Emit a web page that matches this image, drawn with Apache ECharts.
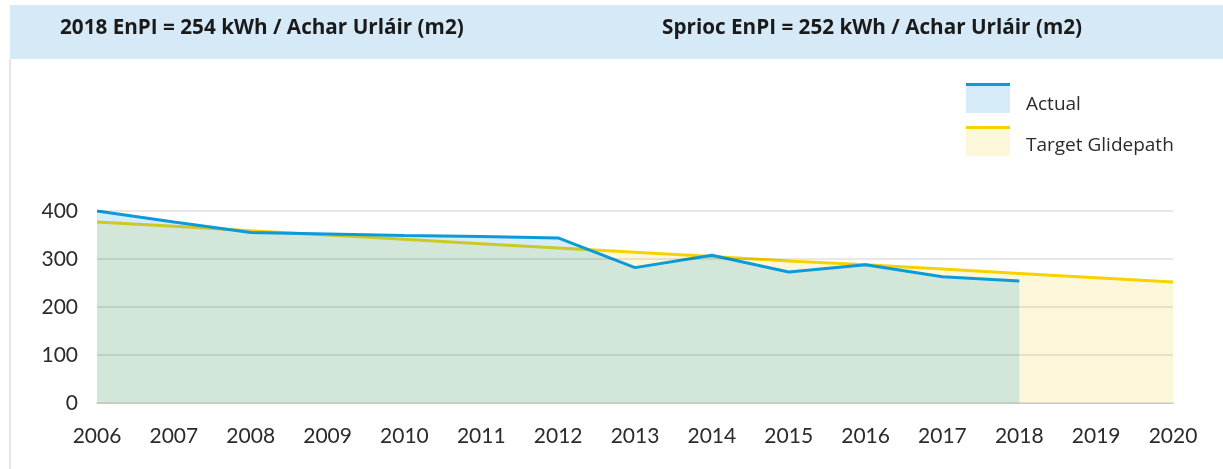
<!DOCTYPE html>
<html>
<head>
<meta charset="utf-8">
<title>EnPI</title>
<script src="https://cdn.jsdelivr.net/npm/echarts@6/dist/echarts.min.js"></script>
<style>
  html, body { margin: 0; padding: 0; background: #ffffff; }
  #chart { width: 1223px; height: 469px; }
</style>
</head>
<body>
<div id="chart"></div>
<script>
// Years on the x axis
const years = ['2006', '2007', '2008', '2009', '2010', '2011', '2012', '2013',
               '2014', '2015', '2016', '2017', '2018', '2019', '2020'];

// Measured energy performance indicator (kWh per m2 of floor area)
const actual = [400, 377, 355, 352, 349, 347, 344, 282, 308, 273, 288, 263, 254];

// Target glidepath down to the 2020 target
const target = [377, 368, 359, 350, 341, 332, 323, 314, 305, 296, 288, 279, 270, 261, 252];

// Header texts and legend names
const headerLeft = '2018 EnPI = 254 kWh / Achar Urláir (m2)';
const headerRight = 'Sprioc EnPI = 252 kWh / Achar Urláir (m2)';
const nameActual = 'Actual';
const nameTarget = 'Target Glidepath';

const FONT = 'Lato, "Open Sans", sans-serif';
const FONT_WIDE = '"Open Sans", Lato, sans-serif';
const BLUE = '#0c9ad9';
const YELLOW = '#f6d300';

const chart = echarts.init(document.getElementById('chart'), null, { renderer: 'canvas' });

chart.setOption({
  animation: false,
  backgroundColor: '#ffffff',
  grid: { left: 97, right: 50, top: 211, bottom: 66 },
  xAxis: {
    type: 'category',
    data: years,
    boundaryGap: false,
    axisLine: { show: true, lineStyle: { color: '#dcdcdc', width: 2 } },
    axisTick: { show: false },
    axisLabel: { color: '#2b2b2b', fontFamily: FONT, fontSize: 21, margin: 23 },
    splitLine: { show: false }
  },
  yAxis: {
    type: 'value',
    min: 0,
    max: 400,
    interval: 100,
    z: 5,
    axisLine: { show: false },
    axisTick: { show: false },
    axisLabel: { color: '#2b2b2b', fontFamily: FONT, fontSize: 21, margin: 19 },
    splitLine: { show: true, lineStyle: { color: 'rgba(0,0,0,0.12)', width: 1.5 } }
  },
  series: [
    {
      name: nameTarget,
      type: 'line',
      data: target,
      symbol: 'none',
      lineStyle: { color: YELLOW, width: 3 },
      areaStyle: { color: '#fdf7da', opacity: 1 },
      z: 2
    },
    {
      name: nameActual,
      type: 'line',
      data: actual,
      symbol: 'none',
      lineStyle: { color: BLUE, width: 3 },
      areaStyle: { color: 'rgb(0,150,215)', opacity: 0.17 },
      z: 3
    }
  ],
  graphic: [
    // header band
    { type: 'rect', left: 10, top: 5, shape: { width: 1213, height: 54 },
      style: { fill: '#d5e9f7' }, z: 0 },
    // left frame line
    { type: 'rect', left: 9, top: 59, shape: { width: 2, height: 410 },
      style: { fill: '#e6e6e6' }, z: 0 },
    { type: 'text', left: 60, top: 18,
      style: { text: headerLeft, fill: '#1a1a1a', font: 'bold 20.7px ' + FONT_WIDE } },
    { type: 'text', left: 662, top: 18,
      style: { text: headerRight, fill: '#1a1a1a', font: 'bold 20.7px ' + FONT_WIDE } },
    // legend: Actual
    { type: 'rect', left: 966, top: 85, shape: { width: 44, height: 28 },
      style: { fill: '#d5ecf8' } },
    { type: 'rect', left: 966, top: 83, shape: { width: 44, height: 3 },
      style: { fill: BLUE } },
    { type: 'text', left: 1026, top: 95,
      style: { text: nameActual, fill: '#2b2b2b', font: '19px ' + FONT_WIDE } },
    // legend: Target Glidepath
    { type: 'rect', left: 966, top: 128, shape: { width: 44, height: 28 },
      style: { fill: '#fdf7da' } },
    { type: 'rect', left: 966, top: 126, shape: { width: 44, height: 3 },
      style: { fill: YELLOW } },
    { type: 'text', left: 1026, top: 136,
      style: { text: nameTarget, fill: '#2b2b2b', font: '19px ' + FONT_WIDE } }
  ]
});
</script>
</body>
</html>
